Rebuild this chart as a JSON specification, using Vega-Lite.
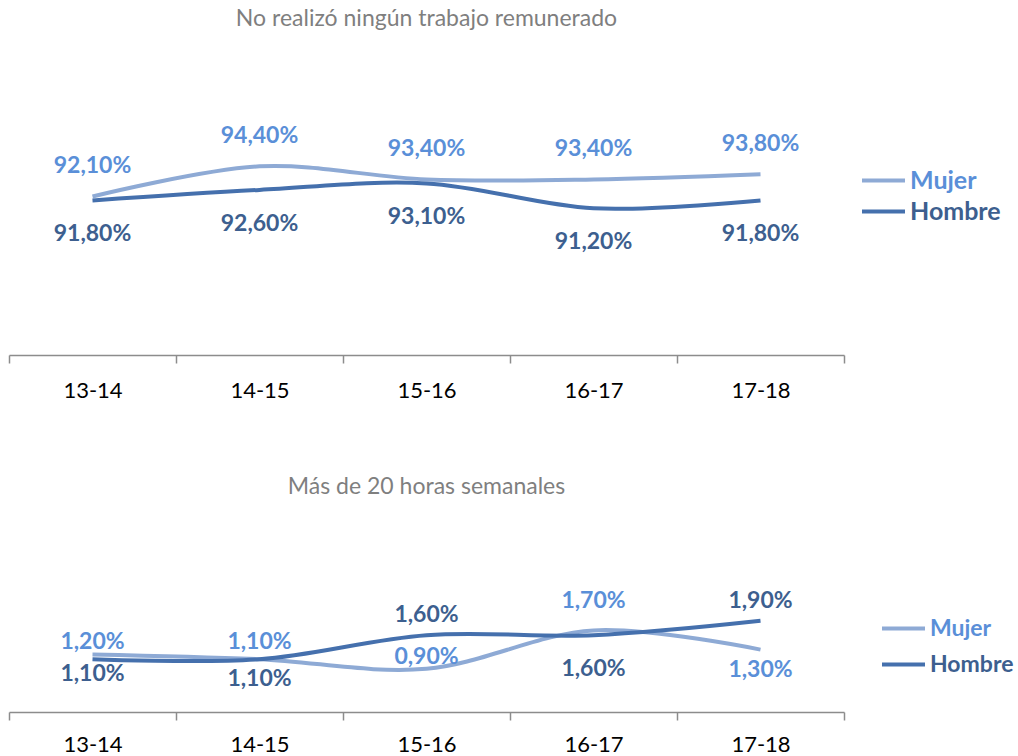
{
  "$schema": "https://vega.github.io/schema/vega-lite/v6.json",
  "padding": {"left": 8, "top": 8, "right": 0, "bottom": 0},
  "background": "white",
  "config": {
    "view": {"stroke": null},
    "font": "Lato",
    "axis": {
      "title": null, "labelAngle": 0, "tickBand": "extent",
      "domainColor": "#8c8c8c", "tickColor": "#8c8c8c", "domainWidth": 1.5, "tickWidth": 1.5, "tickSize": 8,
      "labelFontSize": 22, "labelColor": "#000000", "labelPadding": 17, "labelFont": "Lato", "grid": false
    },
    "title": {"font": "Lato", "fontSize": 23, "fontWeight": "normal", "color": "#7f7f7f", "anchor": "middle"}
  },
  "datasets": {
    "ninguno": [
      {"periodo": "13-14", "serie": "Mujer", "valor": 92.1},
      {"periodo": "14-15", "serie": "Mujer", "valor": 94.4},
      {"periodo": "15-16", "serie": "Mujer", "valor": 93.4},
      {"periodo": "16-17", "serie": "Mujer", "valor": 93.4},
      {"periodo": "17-18", "serie": "Mujer", "valor": 93.8},
      {"periodo": "13-14", "serie": "Hombre", "valor": 91.8},
      {"periodo": "14-15", "serie": "Hombre", "valor": 92.6},
      {"periodo": "15-16", "serie": "Hombre", "valor": 93.1},
      {"periodo": "16-17", "serie": "Hombre", "valor": 91.2},
      {"periodo": "17-18", "serie": "Hombre", "valor": 91.8}
    ],
    "mas20": [
      {"periodo": "13-14", "serie": "Mujer", "valor": 1.2},
      {"periodo": "14-15", "serie": "Mujer", "valor": 1.1},
      {"periodo": "15-16", "serie": "Mujer", "valor": 0.9},
      {"periodo": "16-17", "serie": "Mujer", "valor": 1.7},
      {"periodo": "17-18", "serie": "Mujer", "valor": 1.3},
      {"periodo": "13-14", "serie": "Hombre", "valor": 1.1},
      {"periodo": "14-15", "serie": "Hombre", "valor": 1.1},
      {"periodo": "15-16", "serie": "Hombre", "valor": 1.6},
      {"periodo": "16-17", "serie": "Hombre", "valor": 1.6},
      {"periodo": "17-18", "serie": "Hombre", "valor": 1.9}
    ]
  },
  "resolve": {"scale": {"color": "independent", "x": "independent", "y": "independent"}, "legend": {"color": "independent"}},
  "spacing": 75,
  "vconcat": [
    {
      "width": 835, "height": 262,
      "title": {"text": "No realizó ningún trabajo remunerado", "offset": 62},
      "data": {"name": "ninguno"},
      "transform": [{"calculate": "replace(format(datum.valor, '.2f'), '.', ',') + '%'", "as": "etiqueta"}],
      "encoding": {
        "x": {"field": "periodo", "type": "ordinal", "scale": {"type": "band", "paddingInner": 0, "paddingOuter": 0}},
        "y": {"field": "valor", "type": "quantitative", "scale": {"domain": [80, 100]}, "axis": null}
      },
      "layer": [
        {
          "mark": {"type": "line", "interpolate": "cardinal", "strokeWidth": 4},
          "encoding": {
            "color": {"field": "serie", "type": "nominal", "sort": ["Mujer", "Hombre"],
              "scale": {"domain": ["Mujer", "Hombre"], "range": ["#8eaad5", "#4570ad"]},
              "legend": {"orient": "none", "legendX": 851, "legendY": 72, "title": null, "padding": 0,
                "symbolType": "stroke", "symbolSize": 1849, "symbolStrokeWidth": 4, "clipHeight": 31,
                "labelFontSize": 25, "labelFontWeight": "bold", "labelFont": "Lato", "labelOffset": 3, "rowPadding": 0,
                "encode": {"labels": {"update": {"fill": {"signal": "datum.value === 'Mujer' ? '#5a8fd8' : '#3d5f8f'"}}}}}
            }
          }
        },
        {
          "transform": [{"filter": "datum.serie === 'Mujer'"}],
          "mark": {"type": "text", "dy": -30, "fontSize": 23, "fontWeight": "bold", "color": "#5a8fd8"},
          "encoding": {"text": {"field": "etiqueta"}}
        },
        {
          "transform": [{"filter": "datum.serie === 'Hombre'"}],
          "mark": {"type": "text", "dy": 34, "fontSize": 23, "fontWeight": "bold", "color": "#3d5f8f"},
          "encoding": {"text": {"field": "etiqueta"}}
        }
      ]
    },
    {
      "width": 835, "height": 168,
      "title": {"text": "Más de 20 horas semanales", "offset": 45},
      "data": {"name": "mas20"},
      "transform": [{"calculate": "replace(format(datum.valor, '.2f'), '.', ',') + '%'", "as": "etiqueta"}],
      "encoding": {
        "x": {"field": "periodo", "type": "ordinal", "scale": {"type": "band", "paddingInner": 0, "paddingOuter": 0}, "axis": {"labelPadding": 14}},
        "y": {"field": "valor", "type": "quantitative", "scale": {"domain": [0, 3.5]}, "axis": null}
      },
      "layer": [
        {
          "mark": {"type": "line", "interpolate": "cardinal", "strokeWidth": 4},
          "encoding": {
            "color": {"field": "serie", "type": "nominal", "sort": ["Mujer", "Hombre"],
              "scale": {"domain": ["Mujer", "Hombre"], "range": ["#8eaad5", "#4570ad"]},
              "legend": {"orient": "none", "legendX": 871, "legendY": 61, "title": null, "padding": 0,
                "symbolType": "stroke", "symbolSize": 1849, "symbolStrokeWidth": 4,
                "labelFontSize": 23, "labelFontWeight": "bold", "labelFont": "Lato", "labelOffset": 3, "rowPadding": -1,
                "encode": {"labels": {"update": {"fill": {"signal": "datum.value === 'Mujer' ? '#5a8fd8' : '#3d5f8f'"}}}}}
            }
          }
        },
        {
          "transform": [{"filter": "datum.serie === 'Mujer' && (datum.periodo === '13-14' || datum.periodo === '15-16')"}],
          "mark": {"type": "text", "dy": -12, "fontSize": 23, "fontWeight": "bold", "color": "#5a8fd8"},
          "encoding": {"text": {"field": "etiqueta"}}
        },
        {
          "transform": [{"filter": "datum.serie === 'Mujer' && datum.periodo === '14-15'"}],
          "mark": {"type": "text", "dy": -17, "fontSize": 23, "fontWeight": "bold", "color": "#5a8fd8"},
          "encoding": {"text": {"field": "etiqueta"}}
        },
        {
          "transform": [{"filter": "datum.serie === 'Mujer' && datum.periodo === '16-17'"}],
          "mark": {"type": "text", "dy": -29, "fontSize": 23, "fontWeight": "bold", "color": "#5a8fd8"},
          "encoding": {"text": {"field": "etiqueta"}}
        },
        {
          "transform": [{"filter": "datum.serie === 'Mujer' && datum.periodo === '17-18'"}],
          "mark": {"type": "text", "dy": 20, "fontSize": 23, "fontWeight": "bold", "color": "#5a8fd8"},
          "encoding": {"text": {"field": "etiqueta"}}
        },
        {
          "transform": [{"filter": "datum.serie === 'Hombre' && datum.periodo === '13-14'"}],
          "mark": {"type": "text", "dy": 15, "fontSize": 23, "fontWeight": "bold", "color": "#3d5f8f"},
          "encoding": {"text": {"field": "etiqueta"}}
        },
        {
          "transform": [{"filter": "datum.serie === 'Hombre' && datum.periodo === '14-15'"}],
          "mark": {"type": "text", "dy": 20, "fontSize": 23, "fontWeight": "bold", "color": "#3d5f8f"},
          "encoding": {"text": {"field": "etiqueta"}}
        },
        {
          "transform": [{"filter": "datum.serie === 'Hombre' && (datum.periodo === '15-16' || datum.periodo === '17-18')"}],
          "mark": {"type": "text", "dy": -20, "fontSize": 23, "fontWeight": "bold", "color": "#3d5f8f"},
          "encoding": {"text": {"field": "etiqueta"}}
        },
        {
          "transform": [{"filter": "datum.serie === 'Hombre' && datum.periodo === '16-17'"}],
          "mark": {"type": "text", "dy": 34, "fontSize": 23, "fontWeight": "bold", "color": "#3d5f8f"},
          "encoding": {"text": {"field": "etiqueta"}}
        }
      ]
    }
  ]
}
